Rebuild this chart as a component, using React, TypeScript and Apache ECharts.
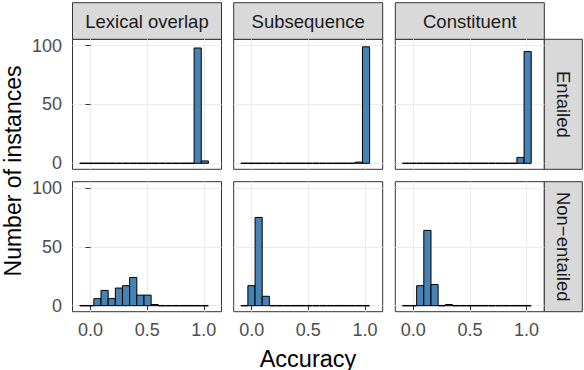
import React, { useEffect, useRef } from "react";
import * as echarts from "echarts";

const heuristics = ["Lexical overlap", "Subsequence", "Constituent"];
const rowLabels = ["Entailed", "Non\u2212entailed"];
const binStart = -0.097;
const binWidth = 0.0632;
// 18 bins per panel (counts)
const lexicalEntailed = [0, 0, 0, 0, 0, 0, 0, 0, 0, 0, 0, 0, 0, 0, 0, 0, 98, 2];
const subsequenceEntailed = [0, 0, 0, 0, 0, 0, 0, 0, 0, 0, 0, 0, 0, 0, 0, 0, 1, 99];
const constituentEntailed = [0, 0, 0, 0, 0, 0, 0, 0, 0, 0, 0, 0, 0, 0, 0, 0, 5, 95];
const lexicalNonEntailed = [0, 0, 6, 13, 6, 15, 17, 24, 9, 9, 1, 0, 0, 0, 0, 0, 0, 0];
const subsequenceNonEntailed = [0, 17, 75, 8, 0, 0, 0, 0, 0, 0, 0, 0, 0, 0, 0, 0, 0, 0];
const constituentNonEntailed = [0, 0, 17, 64, 18, 0, 1, 0, 0, 0, 0, 0, 0, 0, 0, 0, 0, 0];
const xTicks = [0, 0.5, 1.0];
const yTicks = [0, 50, 100];
const xTickLabels = ["0.0", "0.5", "1.0"];

const panelCounts = [
  [lexicalEntailed, subsequenceEntailed, constituentEntailed],
  [lexicalNonEntailed, subsequenceNonEntailed, constituentNonEntailed],
];

const FONT = "'Liberation Sans', Arial, Helvetica, sans-serif";
const colLeft = [72.5, 233.7, 395.3];
const colWidth = 149;
const rowTop = [39.3, 181.7];
const rowHeight = 130;
const stripTop = 2.7;
const stripH = 36.6;
const rightStripX = 544.3;
const rightStripW = 38;

export default function App() {
  const ref = useRef<HTMLDivElement>(null);
  useEffect(() => {
    if (!ref.current) return;
    const chart = echarts.init(ref.current, undefined, { renderer: "svg" });
    const grids: any[] = [];
    const xAxes: any[] = [];
    const yAxes: any[] = [];
    const series: any[] = [];
    const graphics: any[] = [];
    let idx = 0;
    for (let r = 0; r < 2; r++) {
      for (let c = 0; c < 3; c++) {
        grids.push({
          left: colLeft[c],
          top: rowTop[r],
          width: colWidth,
          height: rowHeight,
          show: true,
          backgroundColor: "#fff",
          borderColor: "#333333",
          borderWidth: 1,
        });
        xAxes.push({
          type: "value",
          gridIndex: idx,
          min: -0.159,
          max: 1.156,
          axisLine: { show: false },
          axisTick: { show: r === 1, customValues: xTicks, length: 4.5, lineStyle: { color: "#333333", width: 1 } },
          axisLabel: {
            show: r === 1,
            customValues: xTicks,
            formatter: (v: number) => xTickLabels[xTicks.indexOf(v)] ?? v.toFixed(1),
            color: "#4D4D4D",
            fontSize: 18,
            fontFamily: FONT,
            margin: 9,
          },
          splitLine: { show: true, lineStyle: { color: "#EBEBEB", width: 1 } },
        });
        yAxes.push({
          type: "value",
          gridIndex: idx,
          min: -5.1,
          max: 105.4,
          axisLine: { show: false },
          axisTick: { show: c === 0, customValues: yTicks, length: 5, lineStyle: { color: "#333333", width: 1 } },
          axisLabel: {
            show: c === 0,
            customValues: yTicks,
            color: "#4D4D4D",
            fontSize: 18,
            fontFamily: FONT,
            margin: 10.5,
          },
          splitLine: { show: true, lineStyle: { color: "#EBEBEB", width: 1 } },
        });
        const counts = panelCounts[r][c];
        series.push({
          type: "custom",
          xAxisIndex: idx,
          yAxisIndex: idx,
          data: counts.map((v, i) => [binStart + i * binWidth, binStart + (i + 1) * binWidth, v]),
          encode: { x: [0, 1], y: 2 },
          renderItem: (params: any, api: any) => {
            const x0 = api.value(0);
            const x1 = api.value(1);
            const v = api.value(2);
            const p0 = api.coord([x0, v]);
            const p1 = api.coord([x1, 0]);
            if (v === 0) {
              return {
                type: "line",
                shape: { x1: p0[0], y1: p1[1], x2: p1[0], y2: p1[1] },
                style: { stroke: "#000", lineWidth: 1.5 },
              };
            }
            return {
              type: "rect",
              shape: { x: p0[0], y: p0[1], width: p1[0] - p0[0], height: p1[1] - p0[1] },
              style: { fill: "#4682B4", stroke: "#000", lineWidth: 1 },
            };
          },
        });
        idx++;
      }
    }
    // top strips
    for (let c = 0; c < 3; c++) {
      graphics.push({
        type: "rect",
        shape: { x: colLeft[c], y: stripTop, width: colWidth, height: stripH },
        style: { fill: "#D9D9D9", stroke: "#333333", lineWidth: 1 },
      });
      graphics.push({
        type: "text",
        x: colLeft[c] + colWidth / 2,
        y: stripTop + stripH / 2,
        style: {
          text: heuristics[c],
          fill: "#1A1A1A",
          fontSize: 18.5,
          fontFamily: FONT,
          align: "center",
          verticalAlign: "middle",
        },
      });
    }
    // right strips
    for (let r = 0; r < 2; r++) {
      graphics.push({
        type: "rect",
        shape: { x: rightStripX, y: rowTop[r], width: rightStripW, height: rowHeight },
        style: { fill: "#D9D9D9", stroke: "#333333", lineWidth: 1 },
      });
      graphics.push({
        type: "text",
        x: rightStripX + rightStripW / 2,
        y: rowTop[r] + rowHeight / 2,
        rotation: -Math.PI / 2,
        style: {
          text: rowLabels[r],
          fill: "#1A1A1A",
          fontSize: 18.5,
          fontFamily: FONT,
          align: "center",
          verticalAlign: "middle",
        },
      });
    }
    graphics.push({
      type: "text",
      x: 308,
      y: 358.5,
      style: {
        text: "Accuracy",
        fill: "#000",
        fontSize: 23.5,
        fontFamily: FONT,
        align: "center",
        verticalAlign: "middle",
      },
    });
    graphics.push({
      type: "text",
      x: 13,
      y: 171,
      rotation: Math.PI / 2,
      style: {
        text: "Number of instances",
        fill: "#000",
        fontSize: 23,
        fontFamily: FONT,
        align: "center",
        verticalAlign: "middle",
      },
    });
    chart.setOption({
      animation: false,
      backgroundColor: "#fff",
      grid: grids,
      xAxis: xAxes,
      yAxis: yAxes,
      series,
      graphic: graphics,
    });
    return () => chart.dispose();
  }, []);
  return (
    <div
      ref={ref}
      style={{ position: "fixed", left: 0, top: 0, width: 584, height: 370 }}
    />
  );
}
